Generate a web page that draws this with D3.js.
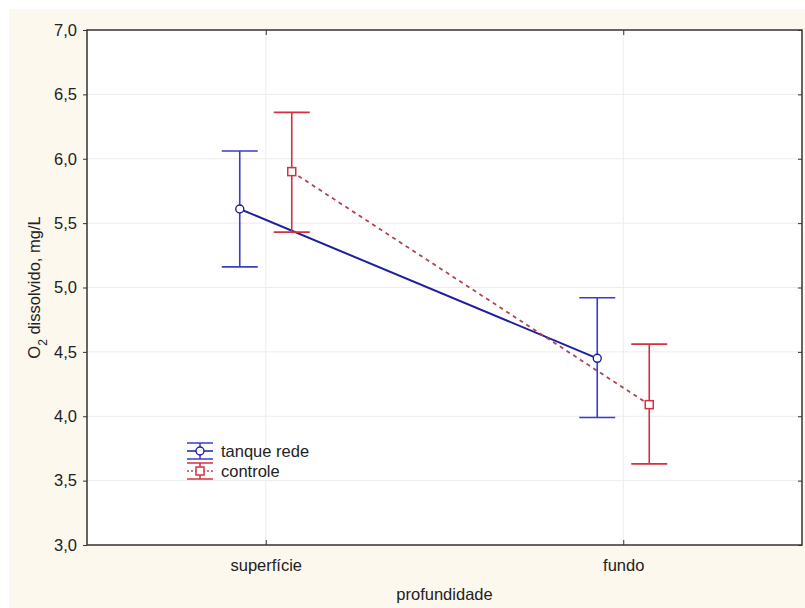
<!DOCTYPE html>
<html>
<head>
<meta charset="utf-8">
<script src="https://cdn.jsdelivr.net/npm/d3@7"></script>
<style>
  body { margin: 0; background: #fff; }
  svg { font-family: "Liberation Sans", Arial, sans-serif; }
</style>
</head>
<body>
<div id="chart"></div>
<script>
// data
var categories = ["superfície", "fundo"];
var seriesNames = ["tanque rede", "controle"];
var meanTanque = [5.61, 4.45];
var upperTanque = [6.06, 4.92];
var lowerTanque = [5.16, 3.99];
var meanControle = [5.90, 4.09];
var upperControle = [6.36, 4.56];
var lowerControle = [5.43, 3.63];
var yTicks = [3.0, 3.5, 4.0, 4.5, 5.0, 5.5, 6.0, 6.5, 7.0];

var series = [
  {name: seriesNames[0], mean: meanTanque, hi: upperTanque, lo: lowerTanque,
   bar: "#3a3ad0", line: "#1f1f9e", marker: "circle", dash: null, off: -26},
  {name: seriesNames[1], mean: meanControle, hi: upperControle, lo: lowerControle,
   bar: "#d6303e", line: "#b24450", marker: "square", dash: "4,4", off: 26}
];

var W = 805, H = 608;
var margin = {top: 30, right: 3, bottom: 63, left: 87},
    width = W - margin.left - margin.right,
    height = H - margin.top - margin.bottom;

var svg = d3.select("#chart").append("svg")
    .attr("width", W)
    .attr("height", H);

// cream panel
svg.append("rect")
    .attr("x", 9).attr("y", 9)
    .attr("width", W - 9).attr("height", H - 9)
    .attr("fill", "#fcf8ee");

var g = svg.append("g")
    .attr("transform", "translate(" + margin.left + "," + margin.top + ")");

g.append("rect")
    .attr("width", width).attr("height", height)
    .attr("fill", "#fff");

var x = d3.scalePoint()
    .domain(categories)
    .range([0, width])
    .padding(0.5);

var y = d3.scaleLinear()
    .domain([3, 7])
    .range([height, 0]);

// grid
g.selectAll(".hgrid")
    .data(yTicks.slice(1, -1))
    .enter().append("line")
    .attr("x1", 0).attr("x2", width)
    .attr("y1", function(d) { return y(d); })
    .attr("y2", function(d) { return y(d); })
    .attr("stroke", "#ececec");

g.selectAll(".vgrid")
    .data(categories)
    .enter().append("line")
    .attr("x1", function(d) { return x(d); })
    .attr("x2", function(d) { return x(d); })
    .attr("y1", 0).attr("y2", height)
    .attr("stroke", "#ececec");

// axes
var fmt = function(d) { return d3.format(".1f")(d).replace(".", ","); };

var yAxis = g.append("g")
    .call(d3.axisLeft(y).tickValues(yTicks).tickFormat(fmt).tickSize(4).tickPadding(6));
yAxis.select(".domain").remove();
yAxis.selectAll("text").style("font-size", "16.5px").attr("fill", "#222");
yAxis.selectAll("line").attr("stroke", "#333");

var yAxisR = g.append("g")
    .attr("transform", "translate(" + width + ",0)")
    .call(d3.axisLeft(y).tickValues(yTicks).tickFormat("").tickSize(4));
yAxisR.select(".domain").remove();
yAxisR.selectAll("line").attr("stroke", "#333");

var xAxis = g.append("g")
    .attr("transform", "translate(0," + height + ")")
    .call(d3.axisBottom(x).tickSize(-5).tickPadding(14));
xAxis.select(".domain").remove();
xAxis.selectAll("text").style("font-size", "16.5px").attr("fill", "#222");
xAxis.selectAll("line").attr("stroke", "#333");

var xAxisT = g.append("g")
    .call(d3.axisTop(x).tickSize(-5).tickFormat(""));
xAxisT.select(".domain").remove();
xAxisT.selectAll("line").attr("stroke", "#333");

// frame
g.append("rect")
    .attr("width", width).attr("height", height)
    .attr("fill", "none")
    .attr("stroke", "#333")
    .attr("stroke-width", 1.5);

// connecting lines
var line = d3.line()
    .x(function(d) { return d[0]; })
    .y(function(d) { return d[1]; });

series.forEach(function(s) {
  var pts = categories.map(function(c, i) { return [x(c) + s.off, y(s.mean[i])]; });
  g.append("path")
      .attr("d", line(pts))
      .attr("fill", "none")
      .attr("stroke", s.line)
      .attr("stroke-width", s.dash ? 1.8 : 2)
      .attr("stroke-dasharray", s.dash);
});

// error bars and markers
var cap = 18;
series.forEach(function(s) {
  categories.forEach(function(c, i) {
    var cx = x(c) + s.off;
    g.append("line")
        .attr("x1", cx).attr("x2", cx)
        .attr("y1", y(s.lo[i])).attr("y2", y(s.hi[i]))
        .attr("stroke", s.bar).attr("stroke-width", 1.6);
    [s.lo[i], s.hi[i]].forEach(function(v) {
      g.append("line")
          .attr("x1", cx - cap).attr("x2", cx + cap)
          .attr("y1", y(v)).attr("y2", y(v))
          .attr("stroke", s.bar).attr("stroke-width", 1.6);
    });
    drawMarker(g, s, cx, y(s.mean[i]));
  });
});

function drawMarker(sel, s, cx, cy) {
  if (s.marker === "circle") {
    sel.append("circle")
        .attr("cx", cx).attr("cy", cy).attr("r", 4)
        .attr("fill", "#fff").attr("stroke", s.line).attr("stroke-width", 1.4);
  } else {
    sel.append("rect")
        .attr("x", cx - 4).attr("y", cy - 4)
        .attr("width", 8).attr("height", 8)
        .attr("fill", "#fff").attr("stroke", s.bar).attr("stroke-width", 1.5);
  }
}

// legend
var legend = svg.append("g").attr("transform", "translate(187,451)");
series.forEach(function(s, i) {
  var row = legend.append("g").attr("transform", "translate(0," + (i * 20) + ")");
  row.append("line").attr("x1", 0).attr("x2", 26).attr("y1", -8).attr("y2", -8)
      .attr("stroke", s.bar).attr("stroke-width", 1.5);
  row.append("line").attr("x1", 0).attr("x2", 26).attr("y1", 8).attr("y2", 8)
      .attr("stroke", s.bar).attr("stroke-width", 1.5);
  row.append("line").attr("x1", 13).attr("x2", 13).attr("y1", -8).attr("y2", 8)
      .attr("stroke", s.bar).attr("stroke-width", 1.5);
  row.append("line").attr("x1", 0).attr("x2", 26).attr("y1", 0).attr("y2", 0)
      .attr("stroke", s.line).attr("stroke-width", 1.5)
      .attr("stroke-dasharray", s.dash ? "2,2" : null);
  drawMarker(row, s, 13, 0);
  row.append("text")
      .attr("x", 34).attr("y", 6)
      .style("font-size", "16.5px")
      .attr("fill", "#222")
      .text(s.name);
});

// axis titles
svg.append("text")
    .attr("x", margin.left + width / 2).attr("y", 600)
    .attr("text-anchor", "middle")
    .style("font-size", "16.5px").attr("fill", "#222")
    .text("profundidade");

var yt = svg.append("text")
    .attr("transform", "translate(40," + (margin.top + height / 2) + ") rotate(-90)")
    .attr("text-anchor", "middle")
    .style("font-size", "16.5px").attr("fill", "#222");
yt.append("tspan").text("O");
yt.append("tspan").attr("baseline-shift", "sub").style("font-size", "12px").text("2");
yt.append("tspan").text(" dissolvido, mg/L");
</script>
</body>
</html>
